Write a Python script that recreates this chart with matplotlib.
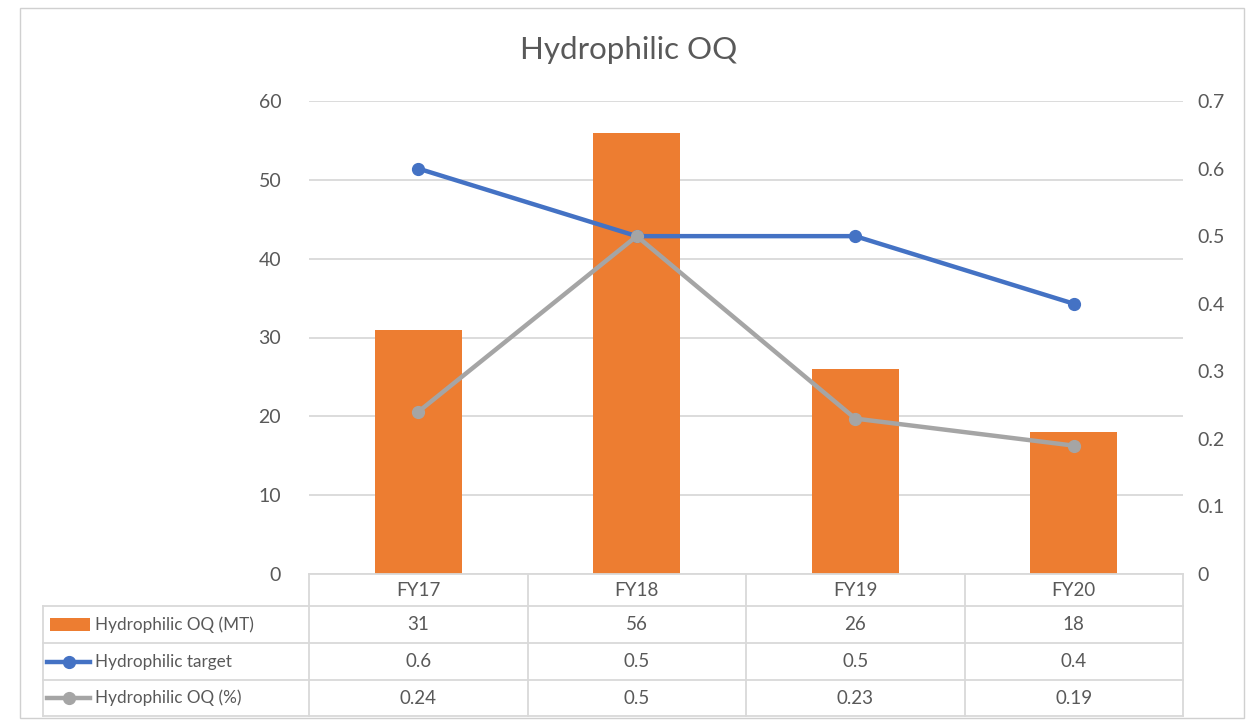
import matplotlib
matplotlib.use("Agg")
import matplotlib.pyplot as plt
from matplotlib.transforms import blended_transform_factory
from matplotlib.lines import Line2D
from matplotlib.patches import Rectangle

categories = ["FY17", "FY18", "FY19", "FY20"]
oq_mt = [31, 56, 26, 18]
target = [0.6, 0.5, 0.5, 0.4]
oq_pct = [0.24, 0.5, 0.23, 0.19]
table_text_mt = ["31", "56", "26", "18"]
table_text_target = ["0.6", "0.5", "0.5", "0.4"]
table_text_pct = ["0.24", "0.5", "0.23", "0.19"]
series_names = ["Hydrophilic OQ (MT)", "Hydrophilic target", "Hydrophilic OQ (%)"]
title = "Hydrophilic OQ"

ORANGE = "#ED7D31"
BLUE = "#4472C4"
GRAY = "#A5A5A5"
GRID = "#D9D9D9"
TXT = "#595959"

plt.rcParams["font.family"] = ["Lato", "DejaVu Sans"]

W, H = 1247, 725
fig = plt.figure(figsize=(W / 100, H / 100), dpi=100)

def fx(px):
    return px / W

def fy(py):
    return 1 - py / H

# outer border
fig.add_artist(Rectangle((fx(20), fy(718)), fx(1244) - fx(20), fy(8) - fy(718),
                         transform=fig.transFigure, fill=False, edgecolor="#D0D0D0", lw=1))

ax = fig.add_axes([fx(309), fy(574), fx(1183) - fx(309), fy(101) - fy(574)])
x = list(range(len(categories)))
ax.bar(x, oq_mt, width=0.4, color=ORANGE, zorder=2)
ax.set_xlim(-0.5, len(categories) - 0.5)
ax.set_ylim(0, 60)
ax.set_yticks(range(0, 61, 10))
ax.grid(axis="y", color=GRID, lw=1.3, zorder=0)
ax.set_axisbelow(True)
for s in ax.spines.values():
    s.set_visible(False)
ax.set_xticks([])
ax.tick_params(axis="y", length=0, labelsize=14, labelcolor=TXT, pad=20)

ax2 = ax.twinx()
ax2.set_ylim(0, 0.7)
ax2.set_yticks([0, 0.1, 0.2, 0.3, 0.4, 0.5, 0.6, 0.7])
ax2.set_yticklabels(["0", "0.1", "0.2", "0.3", "0.4", "0.5", "0.6", "0.7"])
ax2.plot(x, target, color=BLUE, lw=3.2, marker="o", ms=8.5, zorder=3)
ax2.plot(x, oq_pct, color=GRAY, lw=3.2, marker="o", ms=8.5, zorder=3)
for s in ax2.spines.values():
    s.set_visible(False)
ax2.tick_params(axis="y", length=0, labelsize=14, labelcolor=TXT, pad=10)

fig.text(fx(629), fy(50), title, ha="center", va="center", fontsize=22.5, color=TXT)

# data table
tr = blended_transform_factory(ax.transData, fig.transFigure)
tf = fig.transFigure
lc = "#D9D9D9"
rows_y = [574, 606, 643, 680, 716]
fig.add_artist(Line2D([fx(309), fx(1183)], [fy(574), fy(574)], transform=tf, color=lc, lw=1.3))
for yy in rows_y[1:]:
    fig.add_artist(Line2D([fx(43), fx(1183)], [fy(yy), fy(yy)], transform=tf, color=lc, lw=1.3))
fig.add_artist(Line2D([fx(43), fx(43)], [fy(606), fy(716)], transform=tf, color=lc, lw=1.3))
for b in [-0.5, 0.5, 1.5, 2.5, 3.5]:
    fig.add_artist(Line2D([b, b], [fy(574), fy(716)], transform=tr, color=lc, lw=1.3))

def mid(i):
    return fy((rows_y[i] + rows_y[i + 1]) / 2)

for i, c in enumerate(categories):
    fig.text(i, mid(0), c, transform=tr, ha="center", va="center", fontsize=13.5, color=TXT)
for r, vals in enumerate([table_text_mt, table_text_target, table_text_pct]):
    for i, v in enumerate(vals):
        fig.text(i, mid(r + 1), v, transform=tr, ha="center", va="center", fontsize=13.5, color=TXT)

# legend keys in table
fig.add_artist(Rectangle((fx(50), mid(1) - (fy(619) - fy(632)) / 2), fx(90) - fx(50), fy(619) - fy(632),
                         transform=tf, color=ORANGE, lw=0))
fig.add_artist(Line2D([fx(47), fx(68.5), fx(90)], [mid(2), mid(2), mid(2)], transform=tf, color=BLUE, lw=3.2,
                      marker="o", ms=8.5, markevery=[1]))
fig.add_artist(Line2D([fx(47), fx(68.5), fx(90)], [mid(3), mid(3), mid(3)], transform=tf, color=GRAY, lw=3.2,
                      marker="o", ms=8.5, markevery=[1]))
for r, name in enumerate(series_names):
    fig.text(fx(95), mid(r + 1), name, ha="left", va="center", fontsize=12.3, color=TXT)

fig.savefig("out.png", dpi=100, facecolor="white")
